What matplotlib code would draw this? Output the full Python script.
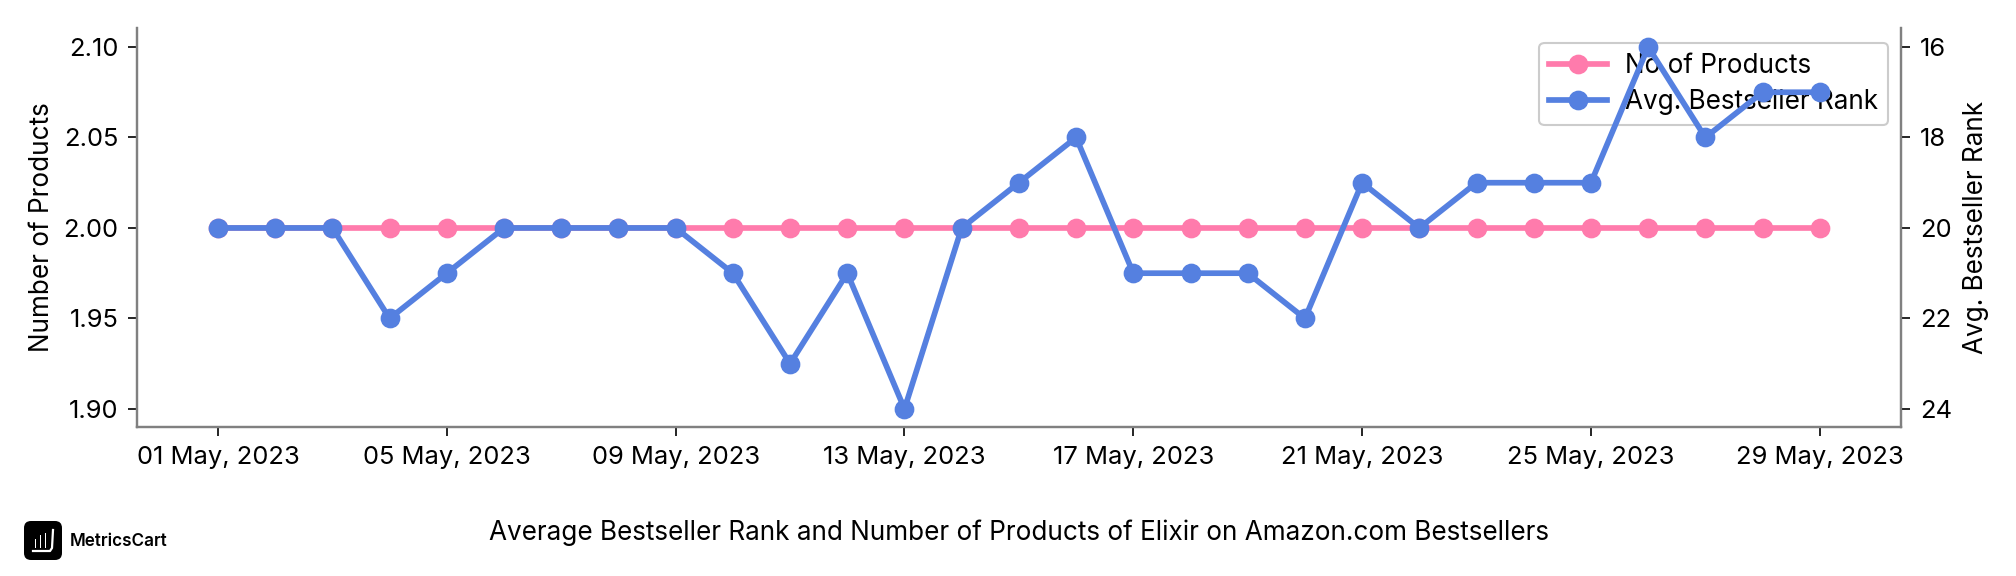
import pandas as pd
import matplotlib
matplotlib.use("Agg")
import matplotlib.pyplot as plt
import matplotlib.dates as mdates
from matplotlib.patches import FancyBboxPatch, Rectangle

dates = pd.date_range("2023-05-01", "2023-05-29")
products = [2.0] * 29
rank = [20, 20, 20, 22, 21, 20, 20, 20, 20, 21, 23, 21, 24, 20, 19,
        18, 21, 21, 21, 22, 19, 20, 19, 19, 19, 16, 18, 17, 17]
product_ticks = [1.90, 1.95, 2.00, 2.05, 2.10]
rank_ticks = [16, 18, 20, 22, 24]

PINK = "#FF7BAC"
BLUE = "#5580E0"
GREY = "#808080"

plt.rcParams['font.family'] = ['Inter', 'DejaVu Sans']
W, H = 2016, 576
fig = plt.figure(figsize=(W / 100, H / 100), dpi=100)

# axes box measured in pixels from the reference
left, right, top, bottom = 137, 1901, 28, 427
ax = fig.add_axes([left / W, 1 - bottom / H, (right - left) / W, (bottom - top) / H])
ax2 = ax.twinx()

line1, = ax.plot(dates, products, color=PINK, lw=4.1, marker='o', ms=13.2, label="No of Products")
line2, = ax2.plot(dates, rank, color=BLUE, lw=4.1, marker='o', ms=13.2, label="Avg. Bestseller Rank")

ax.set_ylim(1.89, 2.1105)
ax2.set_ylim(24.4, 15.58)
ax.set_xlim(dates[0] - pd.Timedelta(days=1.416), dates[-1] + pd.Timedelta(days=1.42))

ax.set_yticks(product_ticks)
ax.set_yticklabels(["%.2f" % t for t in product_ticks])
ax2.set_yticks(rank_ticks)
ax.set_xticks(dates[::4])
ax.xaxis.set_major_formatter(mdates.DateFormatter("%d %b, %Y"))

for a in (ax, ax2):
    a.spines['top'].set_visible(False)
    for s in ('left', 'right', 'bottom'):
        a.spines[s].set_color(GREY)
        a.spines[s].set_linewidth(1.6)
    a.tick_params(labelsize=18.4, length=6.5, width=1.2, pad=7)

ax.set_ylabel("Number of Products", fontsize=18.8, labelpad=6)
ax2.set_ylabel("Avg. Bestseller Rank", fontsize=18.8, labelpad=8)

leg = ax.legend(handles=[line1, line2], loc='upper right', fontsize=18.8,
                bbox_to_anchor=(0.9927, 0.9624), borderaxespad=0, framealpha=1,
                handlelength=2.2, handletextpad=0.7, labelspacing=0.4, borderpad=0.38)
leg.get_frame().set_linewidth(1.5)

fig.text(1019 / W, 1 - 533 / H, "Average Bestseller Rank and Number of Products of Elixir on Amazon.com Bestsellers",
         fontsize=18.8, ha='center', va='center')

# MetricsCart logo
logo = fig.add_axes([0, 0, 1, 1], zorder=5)
logo.set_xlim(0, W)
logo.set_ylim(H, 0)
logo.axis('off')
logo.add_patch(FancyBboxPatch((30, 527), 26, 27, boxstyle="round,pad=6,rounding_size=7", fc='black', ec='none'))
for x, y0, y1 in [(34.5, 539, 548), (39.5, 535, 548), (44.5, 533, 548)]:
    logo.add_patch(Rectangle((x, y0), 1.8, y1 - y0, fc='white', ec='none'))
logo.plot([33, 50, 52, 53], [551, 551, 548, 530], color='white', lw=1.6)
logo.text(70, 541.5, "MetricsCart", fontsize=12.3, fontweight='semibold', va='center', ha='left')

fig.savefig("out.png", dpi=100)
